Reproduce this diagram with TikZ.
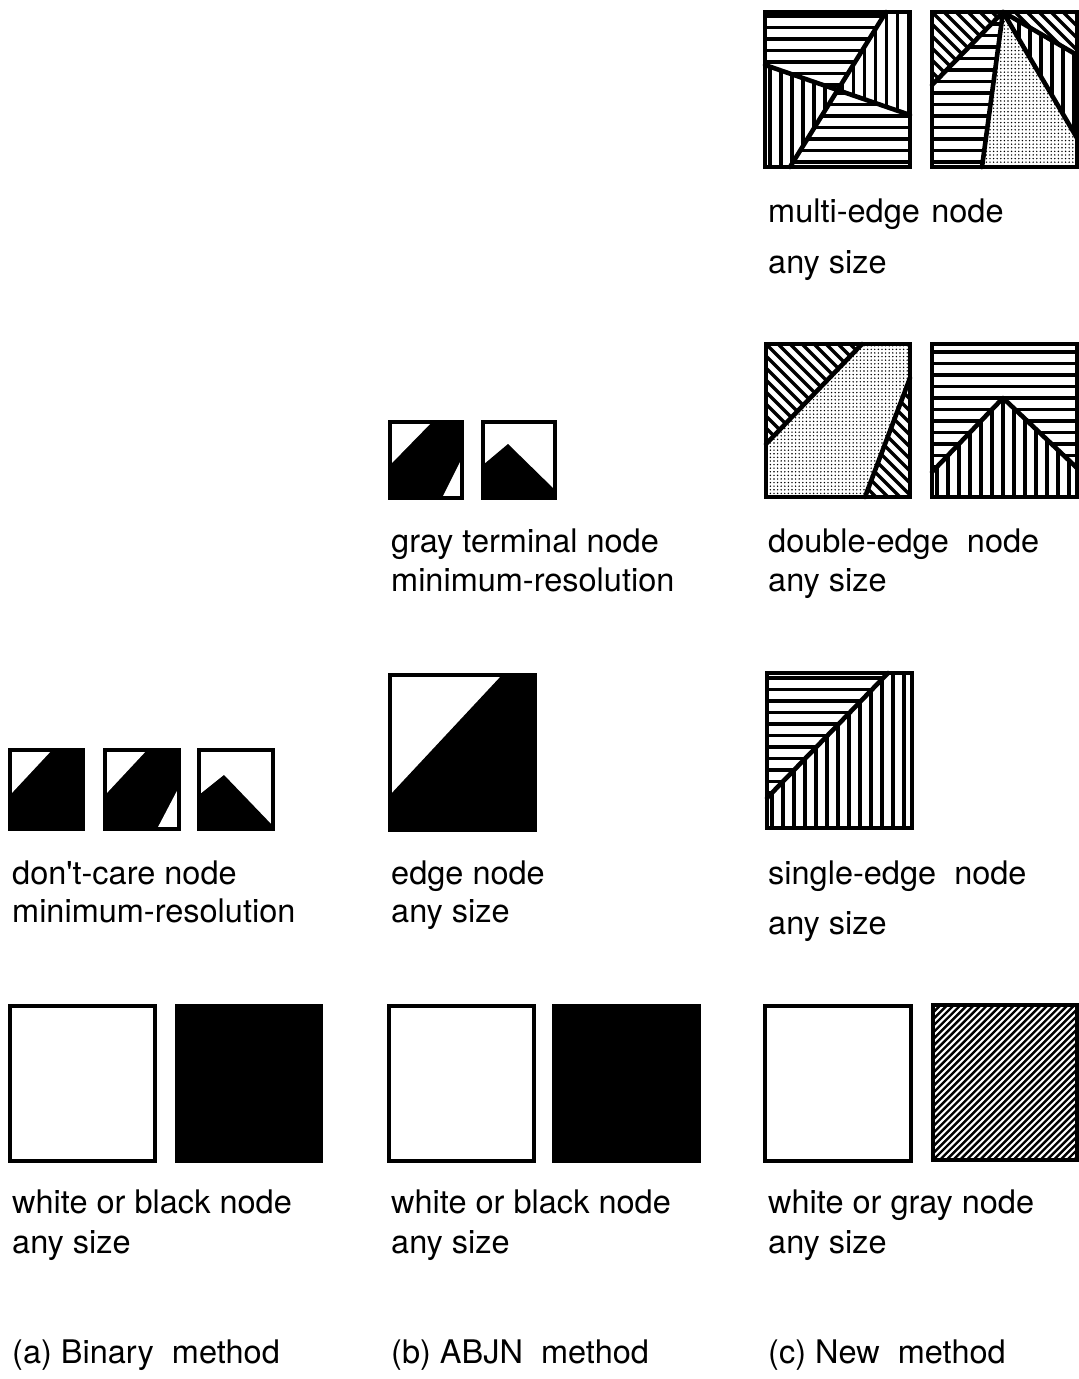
\documentclass[tikz,border=0pt]{standalone}
\usepackage{fontspec}
\setmainfont{TeX Gyre Heros}
\usetikzlibrary{patterns.meta}
\tikzset{
  frame/.style={draw=black, line width=3.8pt},
  edgeline/.style={line width=4.6pt, line cap=round, line join=round},
  hatch/.style={draw=black, line width=3.2pt},
  hlines/.style={path picture={
    \foreach \k in {0,...,14}
      \draw[hatch] ([yshift=\k*11.5pt+5pt]path picture bounding box.south west)
        -- ([yshift=\k*11.5pt+5pt]path picture bounding box.south east);}},
  vlines/.style={path picture={
    \foreach \k in {0,...,14}
      \draw[hatch] ([xshift=\k*11pt+5pt]path picture bounding box.south west)
        -- ([xshift=\k*11pt+5pt]path picture bounding box.north west);}},
  dlines/.style={path picture={
    \foreach \k in {-14,...,13}
      \draw[hatch, line width=3.4pt] ([xshift=\k*12pt]path picture bounding box.north west) -- ++(175pt,-175pt);}},
  glines/.style={path picture={
    \foreach \k in {-24,...,22}
      \draw[hatch, line width=2.4pt] ([xshift=\k*6.7pt]path picture bounding box.south west) -- ++(175pt,175pt);}},
  dotfill/.style={pattern={Dots[radius=0.8pt,distance=3.6pt]}},
  lbl/.style={anchor=base west, inner sep=0pt, font=\fontsize{32.5}{38}\selectfont},
}
\begin{document}
\begin{tikzpicture}[x=1pt, y=-1pt]
        \useasboundingbox (0,0) rectangle (1079,1379);
        % (a) Binary method
        \draw[frame] (10,1006) rectangle (155,1161);
        \fill[black] (177,1006) rectangle (321,1161);
        \draw[frame] (177,1006) rectangle (321,1161);
        \fill[black] (10,750) rectangle (83,829);
        \fill[white] (10,750) -- (52,750) -- (10,795) -- cycle;
        \draw[frame] (10,750) rectangle (83,829);
        \fill[black] (105,750) rectangle (179,829);
        \fill[white] (105,750) -- (147,750) -- (105,795) -- cycle;
        \fill[white] (179,787) -- (179,829) -- (157,829) -- cycle;
        \draw[frame] (105,750) rectangle (179,829);
        \fill[black] (199,795) -- (224,775) -- (273,826) -- (273,829) -- (199,829) -- cycle;
        \draw[frame] (199,750) rectangle (273,829);
        \node[lbl] (dcare) at (12,884) {don\textquotesingle t-care node};
        \node[lbl] (dcres) at (12,922) {minimum-resolution};
        \node[lbl] (wba) at (12,1213) {white or black node};
        \node[lbl] (wbasz) at (12,1253) {any size};
        \node[lbl] (capa) at (12,1363) {(a) Binary\ \ method};
        % (b) ABJN method
        \draw[frame] (389,1006) rectangle (534,1161);
        \fill[black] (554,1006) rectangle (699,1161);
        \draw[frame] (554,1006) rectangle (699,1161);
        \fill[black] (502,675) -- (535,675) -- (535,830) -- (390,830) -- (390,795) -- cycle;
        \draw[frame] (390,675) rectangle (535,830);
        \fill[black] (390,422) rectangle (462,498);
        \fill[white] (390,422) -- (432,422) -- (390,465) -- cycle;
        \fill[white] (462,458) -- (462,498) -- (442,498) -- cycle;
        \draw[frame] (390,422) rectangle (462,498);
        \fill[black] (483,465) -- (508,444) -- (555,490) -- (555,498) -- (483,498) -- cycle;
        \draw[frame] (483,422) rectangle (555,498);
        \node[lbl] (gterm) at (391,552) {gray terminal node};
        \node[lbl] (gtres) at (391,591) {minimum-resolution};
        \node[lbl] (enode) at (391,884) {edge node};
        \node[lbl] (ensz) at (391,922) {any size};
        \node[lbl] (wbb) at (391,1213) {white or black node};
        \node[lbl] (wbbsz) at (391,1253) {any size};
        \node[lbl] (capb) at (391,1363) {(b) ABJN\ \ method};
        % (c) New method
        \draw[frame] (765,1006) rectangle (911,1161);
        \path[glines] (933,1005) rectangle (1077,1160);
        \draw[frame] (933,1005) rectangle (1077,1160);
        % single edge
        \path[hlines] (767,673) -- (888,673) -- (767,798) -- cycle;
        \path[vlines] (888,673) -- (912,673) -- (912,828) -- (767,828) -- (767,798) -- cycle;
        \draw[edgeline] (888,673) -- (767,798);
        \draw[frame] (767,673) rectangle (912,828);
        % double edge
        \path[dlines] (766,344) -- (862,344) -- (766,444) -- cycle;
        \path[dlines] (910,378) -- (910,497) -- (865,497) -- cycle;
        \fill[dotfill] (862,344) -- (910,344) -- (910,378) -- (865,497) -- (766,497) -- (766,444) -- cycle;
        \draw[edgeline] (862,344) -- (766,444);
        \draw[edgeline] (910,378) -- (865,497);
        \draw[frame] (766,344) rectangle (910,497);
        \path[hlines] (932,344) -- (1077,344) -- (1077,468) -- (1003,398) -- (932,472) -- cycle;
        \path[vlines] (932,472) -- (1003,398) -- (1077,468) -- (1077,497) -- (932,497) -- cycle;
        \draw[edgeline] (932,472) -- (1003,398) -- (1077,468);
        \draw[frame] (932,344) rectangle (1077,497);
        % multi edge
        \coordinate (ma1) at (886,12);
        \coordinate (ma2) at (790,167);
        \coordinate (mb1) at (765,65);
        \coordinate (mb2) at (910,115);
        \coordinate (mx) at (intersection of ma1--ma2 and mb1--mb2);
        \path[hlines] (765,12) -- (ma1) -- (mx) -- (mb1) -- cycle;
        \path[vlines] (ma1) -- (910,12) -- (mb2) -- (mx) -- cycle;
        \path[vlines] (mb1) -- (mx) -- (ma2) -- (765,167) -- cycle;
        \path[hlines] (mx) -- (mb2) -- (910,167) -- (ma2) -- cycle;
        \draw[edgeline] (ma1) -- (ma2);
        \draw[edgeline] (mb1) -- (mb2);
        \draw[frame] (765,12) rectangle (910,167);
        \coordinate (apex) at (1003,12);
        \path[dlines] (932,12) -- (apex) -- (932,85) -- cycle;
        \path[hlines] (932,85) -- (apex) -- (982,167) -- (932,167) -- cycle;
        \fill[dotfill] (apex) -- (1077,138) -- (1077,167) -- (982,167) -- cycle;
        \path[vlines] (apex) -- (1077,55) -- (1077,138) -- cycle;
        \path[dlines] (apex) -- (1077,12) -- (1077,55) -- cycle;
        \draw[edgeline] (932,85) -- (apex) -- (982,167);
        \draw[edgeline] (apex) -- (1077,138);
        \draw[edgeline] (apex) -- (1077,55);
        \draw[frame] (932,12) rectangle (1077,167);
        \node[lbl] (medge) at (768,222) {multi-edge\hspace{.35em}node};
        \node[lbl] (mesz) at (768,273) {any size};
        \node[lbl] (dedge) at (768,552) {double-edge\ \ node};
        \node[lbl] (desz) at (768,591) {any size};
        \node[lbl] (sedge) at (768,884) {single-edge\ \ node};
        \node[lbl] (sesz) at (768,934) {any size};
        \node[lbl] (wgc) at (768,1213) {white or gray node};
        \node[lbl] (wgcsz) at (768,1253) {any size};
        \node[lbl] (capc) at (768,1363) {(c) New\ \ method};
    \end{tikzpicture}
\end{document}
